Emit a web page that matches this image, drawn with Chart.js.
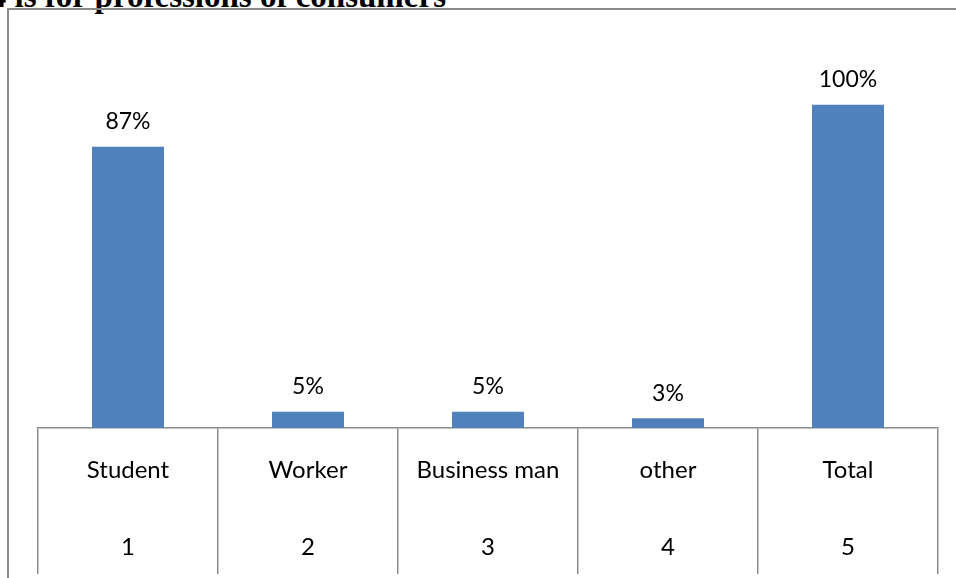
<!DOCTYPE html>
<html>
<head>
<meta charset="utf-8">
<script src="https://cdn.jsdelivr.net/npm/chart.js@4.4.0/dist/chart.umd.min.js"></script>
<style>
  html, body { margin: 0; padding: 0; background: #fff; overflow: hidden; }
  #wrap { position: relative; width: 956px; height: 578px; overflow: hidden; }
  #title {
    position: absolute; right: 510px; top: -20px;
    white-space: nowrap;
    font: bold 33px "Liberation Serif", "DejaVu Serif", serif; line-height: 33px; color: #000;
  }
  #frame {
    position: absolute; left: 7px; top: 8px; width: 960px; height: 600px;
    border-left: 2px solid #8a8a8a; border-top: 2px solid #8a8a8a;
  }
  #myChart { position: absolute; left: 0; top: 0; }
</style>
</head>
<body>
<div id="wrap">
  <div id="title">Figure 4 is for professions of consumers</div>
  <div id="frame"></div>
  <canvas id="myChart" width="956" height="578"></canvas>
</div>
<script>
const categories = ['Student', 'Worker', 'Business man', 'other', 'Total'];
const numbers = ['1', '2', '3', '4', '5'];
const percents = [87, 5, 5, 3, 100];

// draw the "87%" etc above each bar
const valueLabels = {
  id: 'valueLabels',
  afterDatasetsDraw(chart) {
    const c = chart.ctx;
    const meta = chart.getDatasetMeta(0);
    c.save();
    c.font = '23px Lato';
    c.fillStyle = '#000';
    c.textAlign = 'center';
    c.textBaseline = 'middle';
    meta.data.forEach((bar, i) => {
      c.fillText(percents[i] + '%', bar.x, bar.y - 25);
    });
    c.restore();
  }
};

new Chart(document.getElementById('myChart'), {
  type: 'bar',
  data: {
    labels: categories.map((c, i) => [c, numbers[i]]),
    datasets: [{
      data: percents,
      backgroundColor: '#4f81bd',
      borderWidth: 0,
      barPercentage: 0.4,
      categoryPercentage: 1
    }]
  },
  options: {
    responsive: false,
    animation: false,
    layout: { padding: { top: 40, left: 38, right: 18, bottom: 0 } },
    plugins: { legend: { display: false }, tooltip: { enabled: false } },
    scales: {
      x: {
        afterFit: (scale) => { scale.height = 150; },
        border: { display: true, color: '#8c8c8c', width: 1.5 },
        grid: {
          offset: true,
          drawOnChartArea: false,
          drawTicks: true,
          tickLength: 146,
          color: '#8c8c8c',
          lineWidth: 1.5
        },
        ticks: {
          maxRotation: 0,
          autoSkip: false,
          padding: -142.5,
          color: '#000',
          font: { family: 'Lato', size: 24, lineHeight: 77 / 24 }
        }
      },
      y: { display: false, min: 0, max: 120 }
    }
  },
  plugins: [valueLabels]
});
</script>
</body>
</html>
